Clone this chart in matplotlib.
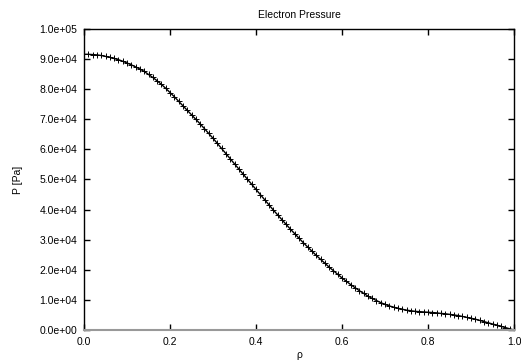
import numpy as np
import matplotlib
matplotlib.use("Agg")
import matplotlib.pyplot as plt

plt.rcParams['font.family'] = ['Liberation Sans', 'DejaVu Sans']

rho = [i / 100 for i in range(101)]
pressure_k = [
    91.6, 91.6, 91.5, 91.4, 91.2, 90.9, 90.6, 90.2, 89.8, 89.3,
    88.7, 88.1, 87.4, 86.7, 85.9, 84.9, 83.9, 82.8, 81.6, 80.3,
    78.9, 77.5, 76.0, 74.5, 73.0, 71.5, 70.0, 68.5, 66.9, 65.3,
    63.7, 62.0, 60.3, 58.6, 56.9, 55.2, 53.5, 51.8, 50.1, 48.4,
    46.7, 45.0, 43.3, 41.6, 39.9, 38.3, 36.7, 35.1, 33.5, 32.0,
    30.5, 29.0, 27.6, 26.2, 24.8, 23.5, 22.2, 20.9, 19.7, 18.5,
    17.3, 16.2, 15.1, 14.1, 13.1, 12.2, 11.3, 10.5, 9.8, 9.1,
    8.5, 8.0, 7.6, 7.2, 6.9, 6.6, 6.4, 6.2, 6.1, 6.0,
    5.9, 5.8, 5.7, 5.5, 5.4, 5.2, 5.0, 4.8, 4.5, 4.2,
    3.9, 3.6, 3.2, 2.8, 2.4, 2.0, 1.6, 1.2, 0.8, 0.4,
    0.0,
]
pressure = [v * 1000 for v in pressure_k]

x_ticks = [0.0, 0.2, 0.4, 0.6, 0.8, 1.0]
x_tick_labels = ["0.0", "0.2", "0.4", "0.6", "0.8", "1.0"]
y_ticks = [i * 1e4 for i in range(11)]
y_tick_labels = ["0.0e+00", "1.0e+04", "2.0e+04", "3.0e+04", "4.0e+04", "5.0e+04",
                 "6.0e+04", "7.0e+04", "8.0e+04", "9.0e+04", "1.0e+05"]

fig = plt.figure(figsize=(5.21, 3.63), dpi=100)
ax = fig.add_axes([84 / 521, 1 - 330 / 363, 430 / 521, 301 / 363])

ax.plot(rho, pressure, color='black', linewidth=1.0, marker='+',
        markersize=5, markeredgewidth=0.7)

ax.set_xlim(0, 1.0)
ax.set_ylim(0, 1e5)
ax.set_xticks(x_ticks)
ax.set_xticklabels(x_tick_labels)
ax.set_yticks(y_ticks)
ax.set_yticklabels(y_tick_labels)

ax.tick_params(direction='in', length=4, width=1.0, top=True, right=True,
               labelsize=7.5, pad=5, colors='black')
for s in ax.spines.values():
    s.set_linewidth(1.0)
    s.set_color('black')
ax.spines['bottom'].set_color('#999999')
ax.spines['bottom'].set_linewidth(1.5)

ax.set_title("Electron Pressure", fontsize=7.5, pad=8)
ax.set_xlabel("ρ", fontsize=7.5, labelpad=2)
ax.set_ylabel("P [Pa]", fontsize=7.5, labelpad=12)

fig.savefig("out.png", dpi=100)
